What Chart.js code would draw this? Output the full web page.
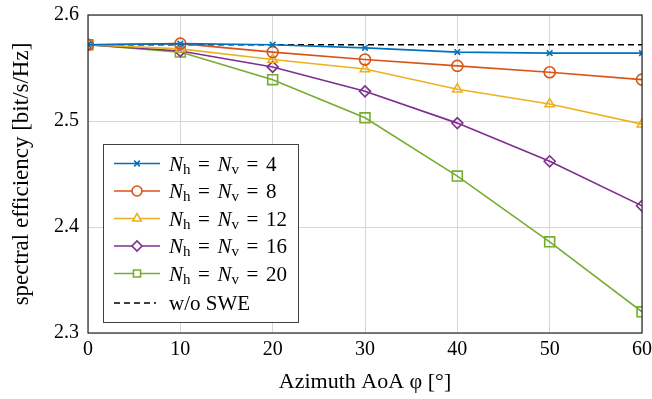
<!DOCTYPE html>
<html>
<head>
<meta charset="utf-8">
<script src="https://cdn.jsdelivr.net/npm/chart.js@4"></script>
<style>
  html, body { margin: 0; padding: 0; background: #fff; }
  #wrap { width: 652px; height: 399px; }
</style>
</head>
<body>
<div id="wrap"><canvas id="myChart" width="652" height="399"></canvas></div>
<script>
const angles = [0, 10, 20, 30, 40, 50, 60];
const se4  = [2.572, 2.573, 2.572, 2.569, 2.565, 2.564, 2.564];
const se8  = [2.572, 2.573, 2.565, 2.558, 2.552, 2.546, 2.539];
const se12 = [2.572, 2.568, 2.558, 2.549, 2.530, 2.516, 2.497];
const se16 = [2.572, 2.566, 2.551, 2.528, 2.498, 2.462, 2.420];
const se20 = [2.572, 2.565, 2.539, 2.503, 2.448, 2.386, 2.320];
const noSwe = [2.572, 2.572, 2.572, 2.572, 2.572, 2.572, 2.572];
const antennaSizes = ['4', '8', '12', '16', '20'];
const yTicks = [2.3, 2.4, 2.5, 2.6];

const FONT = '"Liberation Serif", "DejaVu Serif", serif';
const colores = ['#0072BD', '#D95319', '#EDB120', '#7E2F8E', '#77AC30'];
const estilos = ['crossRot', 'circle', 'triangle', 'rectRot', 'rect'];
const radios = [4, 5.5, 5.5, 5.5, 7];
const series = [se4, se8, se12, se16, se20];

const pts = arr => arr.map((v, i) => ({ x: angles[i], y: v }));

const datasets = series.map((s, i) => ({
  label: 'N_h = N_v = ' + antennaSizes[i],
  data: pts(s),
  borderColor: colores[i],
  backgroundColor: 'rgba(0,0,0,0)',
  borderWidth: 1.6,
  pointStyle: estilos[i],
  pointRadius: radios[i],
  pointBorderWidth: 1.6,
  pointBorderColor: colores[i],
  pointBackgroundColor: 'rgba(0,0,0,0)',
  tension: 0
}));
datasets.push({
  label: 'w/o SWE',
  data: pts(noSwe),
  borderColor: '#000',
  borderWidth: 1.6,
  borderDash: [6, 4],
  pointRadius: 0,
  tension: 0
});

// marco alrededor del área
const marco = {
  id: 'marco',
  afterDatasetsDraw(chart) {
    const { ctx, chartArea: a } = chart;
    ctx.save();
    ctx.strokeStyle = '#262626';
    ctx.lineWidth = 1.2;
    ctx.strokeRect(a.left, a.top, a.right - a.left, a.bottom - a.top);
    ctx.restore();
  }
};

// leyenda con N en cursiva y subíndices
const leyenda = {
  id: 'leyenda',
  afterDraw(chart) {
    const ctx = chart.ctx;
    const bx = 103, by = 144, bw = 195, bh = 178;
    ctx.save();
    ctx.fillStyle = '#fff';
    ctx.fillRect(bx, by, bw, bh);
    ctx.strokeStyle = '#404040';
    ctx.lineWidth = 1;
    ctx.strokeRect(bx + 0.5, by + 0.5, bw, bh);
    const rows = [163.5, 191, 218.5, 246, 273.5, 303];
    ctx.textBaseline = 'alphabetic';
    const fs = 21;
    series.forEach((s, i) => {
      const y = rows[i];
      ctx.strokeStyle = colores[i];
      ctx.lineWidth = 1.6;
      ctx.setLineDash([]);
      ctx.beginPath();
      ctx.moveTo(114, y);
      ctx.lineTo(160, y);
      ctx.stroke();
      ctx.fillStyle = '#fff';
      Chart.helpers.drawPoint(ctx, {
        pointStyle: estilos[i], radius: Math.min(radios[i], 5), rotation: 0,
        borderWidth: 1.6
      }, 137, y);
      ctx.fillStyle = '#000';
      let x = 169;
      const base = y + 7;
      const piece = (t, f, dy) => {
        ctx.font = f;
        ctx.fillText(t, x, base + (dy || 0));
        x += ctx.measureText(t).width;
      };
      const igual = () => {
        x += fs * 0.36;
        piece('=', fs + 'px ' + FONT);
        x += fs * 0.36;
      };
      piece('N', 'italic ' + fs + 'px ' + FONT);
      piece('h', '15px ' + FONT, 3);
      igual();
      piece('N', 'italic ' + fs + 'px ' + FONT);
      piece('v', '15px ' + FONT, 3);
      igual();
      piece(antennaSizes[i], fs + 'px ' + FONT);
    });
    const y = rows[5];
    ctx.strokeStyle = '#000';
    ctx.lineWidth = 1.6;
    ctx.setLineDash([6, 4]);
    ctx.beginPath();
    ctx.moveTo(114, y);
    ctx.lineTo(156, y);
    ctx.stroke();
    ctx.setLineDash([]);
    ctx.font = fs + 'px ' + FONT;
    ctx.fillText('w/o SWE', 169, y + 7);
    ctx.restore();
  }
};

new Chart(document.getElementById('myChart'), {
  type: 'line',
  data: { datasets },
  options: {
    responsive: false,
    animation: false,
    layout: { padding: { left: 0, right: 0, top: 15, bottom: 0 } },
    plugins: { legend: { display: false }, tooltip: { enabled: false } },
    scales: {
      x: {
        type: 'linear',
        min: 0, max: 60,
        grid: { color: '#d6d6d6', lineWidth: 1, drawTicks: false },
        border: { display: false },
        ticks: { stepSize: 10, color: '#000', padding: 5, font: { family: FONT, size: 20 } },
        title: { display: true, text: 'Azimuth AoA φ [°]', color: '#000', padding: { top: 2, bottom: 4 }, font: { family: FONT, size: 22 } },
        afterFit: s => { s.height = 66; s.paddingRight = 10; s.paddingLeft = 0; }
      },
      y: {
        min: 2.3, max: 2.6,
        afterBuildTicks: s => { s.ticks = yTicks.map(v => ({ value: v })); },
        grid: { color: '#d6d6d6', lineWidth: 1, drawTicks: false },
        border: { display: false },
        ticks: { color: '#000', padding: 9, font: { family: FONT, size: 20 }, callback: v => v.toFixed(1) },
        title: { display: true, text: 'spectral efficiency [bit/s/Hz]', color: '#000', padding: { top: 8, bottom: 0 }, font: { family: FONT, size: 23 } },
        afterFit: s => { s.width = 88; s.paddingTop = 0; s.paddingBottom = 0; }
      }
    }
  },
  plugins: [marco, leyenda]
});
</script>
</body>
</html>
